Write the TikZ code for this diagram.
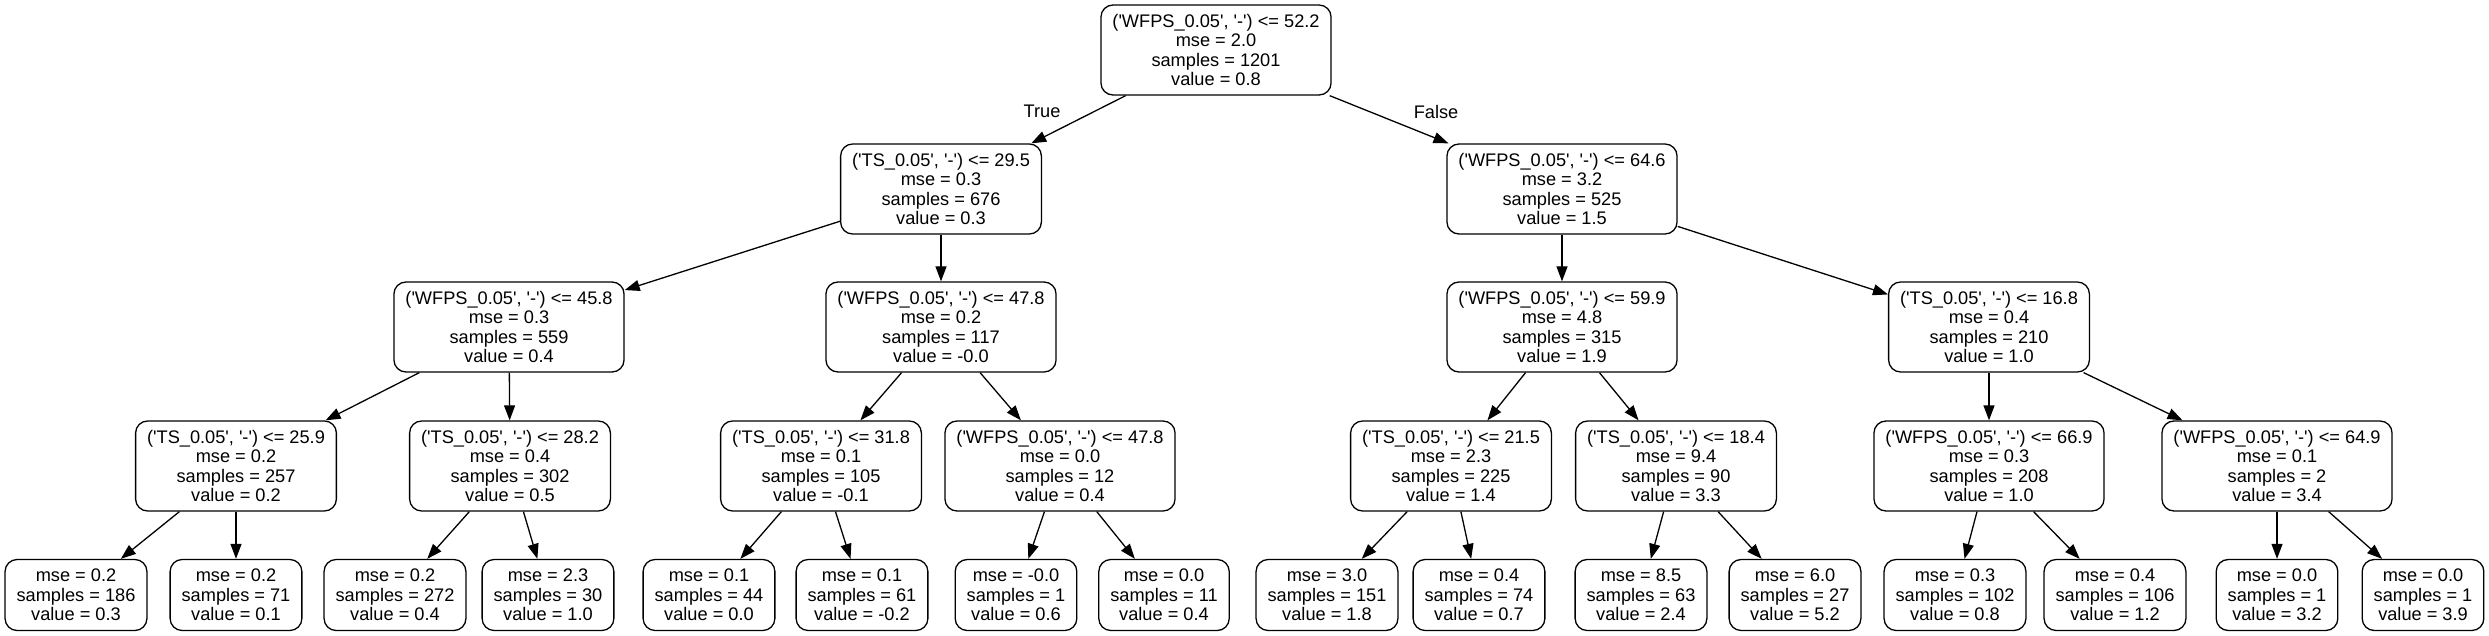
\documentclass[tikz,border=0pt]{standalone}
\usepackage{fontspec}
\setmainfont{Liberation Sans}[Ligatures=TeXOff]
\usetikzlibrary{arrows.meta}
\begin{document}
\begin{tikzpicture}[x=0.5pt,y=-0.5pt,
  split/.style={draw,rounded corners=6pt,line width=0.65pt,align=center,inner xsep=5.75pt,inner ysep=0pt,
    minimum height=45pt,font=\fontsize{9.1}{9.75}\selectfont},
  leaf/.style={split,minimum height=35.5pt},
  link/.style={-{Triangle[length=7.5pt,width=5.5pt]},line width=0.65pt}]
\useasboundingbox (0,0) rectangle (2489,636);

\node[split] (a) at (1216,50) {('WFPS\_0.05', '-') <= 52.2\\mse = 2.0\\samples = 1201\\value = 0.8};

\node[split] (b1) at (941,189) {('TS\_0.05', '-') <= 29.5\\mse = 0.3\\samples = 676\\value = 0.3};
\node[split] (b2) at (1562,189) {('WFPS\_0.05', '-') <= 64.6\\mse = 3.2\\samples = 525\\value = 1.5};

\node[split] (c1) at (509,327) {('WFPS\_0.05', '-') <= 45.8\\mse = 0.3\\samples = 559\\value = 0.4};
\node[split] (c2) at (941,327) {('WFPS\_0.05', '-') <= 47.8\\mse = 0.2\\samples = 117\\value = -0.0};
\node[split] (c3) at (1562,327) {('WFPS\_0.05', '-') <= 59.9\\mse = 4.8\\samples = 315\\value = 1.9};
\node[split] (c4) at (1989,327) {('TS\_0.05', '-') <= 16.8\\mse = 0.4\\samples = 210\\value = 1.0};

\node[split] (d1) at (236,466) {('TS\_0.05', '-') <= 25.9\\mse = 0.2\\samples = 257\\value = 0.2};
\node[split] (d2) at (510,466) {('TS\_0.05', '-') <= 28.2\\mse = 0.4\\samples = 302\\value = 0.5};
\node[split] (d3) at (821,466) {('TS\_0.05', '-') <= 31.8\\mse = 0.1\\samples = 105\\value = -0.1};
\node[split] (d4) at (1060,466) {('WFPS\_0.05', '-') <= 47.8\\mse = 0.0\\samples = 12\\value = 0.4};
\node[split] (d5) at (1451,466) {('TS\_0.05', '-') <= 21.5\\mse = 2.3\\samples = 225\\value = 1.4};
\node[split] (d6) at (1676,466) {('TS\_0.05', '-') <= 18.4\\mse = 9.4\\samples = 90\\value = 3.3};
\node[split] (d7) at (1989,466) {('WFPS\_0.05', '-') <= 66.9\\mse = 0.3\\samples = 208\\value = 1.0};
\node[split] (d8) at (2277,466) {('WFPS\_0.05', '-') <= 64.9\\mse = 0.1\\samples = 2\\value = 3.4};

\node[leaf] (e1) at (76,595) {mse = 0.2\\samples = 186\\value = 0.3};
\node[leaf] (e2) at (236,595) {mse = 0.2\\samples = 71\\value = 0.1};
\node[leaf] (e3) at (395,595) {mse = 0.2\\samples = 272\\value = 0.4};
\node[leaf] (e4) at (548,595) {mse = 2.3\\samples = 30\\value = 1.0};
\node[leaf] (e5) at (709,595) {mse = 0.1\\samples = 44\\value = 0.0};
\node[leaf] (e6) at (862,595) {mse = 0.1\\samples = 61\\value = -0.2};
\node[leaf] (e7) at (1016,595) {mse = -0.0\\samples = 1\\value = 0.6};
\node[leaf] (e8) at (1164,595) {mse = 0.0\\samples = 11\\value = 0.4};
\node[leaf] (e9) at (1327,595) {mse = 3.0\\samples = 151\\value = 1.8};
\node[leaf] (e10) at (1479,595) {mse = 0.4\\samples = 74\\value = 0.7};
\node[leaf] (e11) at (1641,595) {mse = 8.5\\samples = 63\\value = 2.4};
\node[leaf] (e12) at (1795,595) {mse = 6.0\\samples = 27\\value = 5.2};
\node[leaf] (e13) at (1955,595) {mse = 0.3\\samples = 102\\value = 0.8};
\node[leaf] (e14) at (2115,595) {mse = 0.4\\samples = 106\\value = 1.2};
\node[leaf] (e15) at (2277,595) {mse = 0.0\\samples = 1\\value = 3.2};
\node[leaf] (e16) at (2423,595) {mse = 0.0\\samples = 1\\value = 3.9};

\draw[link] (a) -- (b1);
\draw[link] (a) -- (b2);
\draw[link] (b1) -- (c1);
\draw[link] (b1) -- (c2);
\draw[link] (b2) -- (c3);
\draw[link] (b2) -- (c4);
\draw[link] (c1) -- (d1);
\draw[link] (c1) -- (d2);
\draw[link] (c2) -- (d3);
\draw[link] (c2) -- (d4);
\draw[link] (c3) -- (d5);
\draw[link] (c3) -- (d6);
\draw[link] (c4) -- (d7);
\draw[link] (c4) -- (d8);
\draw[link] (d1) -- (e1);
\draw[link] (d1) -- (e2);
\draw[link] (d2) -- (e3);
\draw[link] (d2) -- (e4);
\draw[link] (d3) -- (e5);
\draw[link] (d3) -- (e6);
\draw[link] (d4) -- (e7);
\draw[link] (d4) -- (e8);
\draw[link] (d5) -- (e9);
\draw[link] (d5) -- (e10);
\draw[link] (d6) -- (e11);
\draw[link] (d6) -- (e12);
\draw[link] (d7) -- (e13);
\draw[link] (d7) -- (e14);
\draw[link] (d8) -- (e15);
\draw[link] (d8) -- (e16);

\node[font=\fontsize{9.1}{9.75}\selectfont] (t) at (1042,111) {True};
\node[font=\fontsize{9.1}{9.75}\selectfont] (f) at (1436,112) {False};
\end{tikzpicture}
\end{document}
